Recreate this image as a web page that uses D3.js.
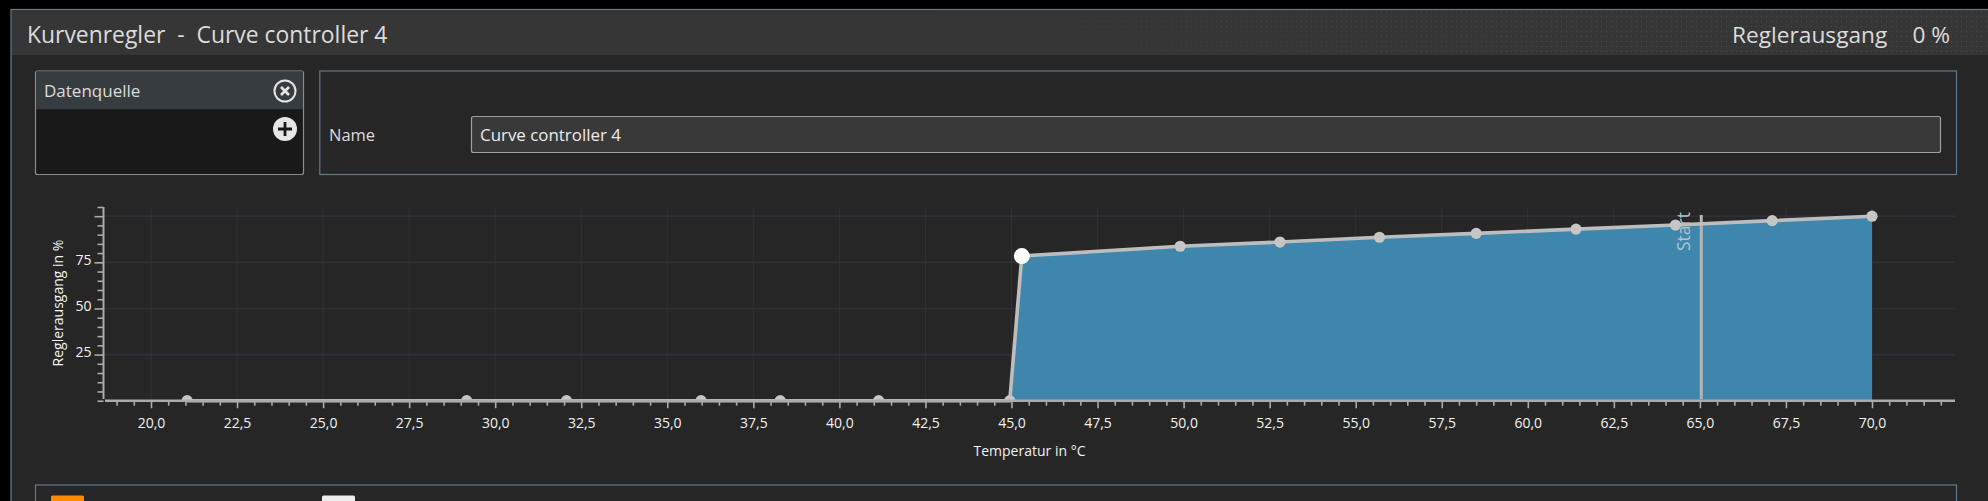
<!DOCTYPE html>
<html lang="de">
  <head>
    <meta charset="utf-8">
    <title>Kurvenregler - Curve controller 4</title>
    <style>
      html, body { margin: 0; background: #000; overflow: hidden; }
      svg { display: block; font-family: "Open Sans", sans-serif; }
      .axis .domain { display: none; }
      .axis text { fill: #f2f2f2; font-size: 14px; font-family: "Open Sans", sans-serif; }
      .axis line { stroke: #ababab; stroke-width: 1.6; }
      .grid line { stroke: #30303a; }
    </style>
    <script src="https://d3js.org/d3.v7.min.js"></script>
  </head>
  <body>
    <div class="chart"></div>
    <script>
    // curve points
    const temps = [21.05, 29.17, 32.07, 35.98, 38.28, 41.14, 44.95, 45.3, 49.9, 52.8, 55.69, 58.5, 61.4, 64.29, 67.1, 70]
    const outputs = [0, 0, 0, 0, 0, 0, 0, 78.4, 83.7, 86, 88.6, 90.7, 93, 95.2, 97.6, 100]
    const activePoint = 7
    const startTemp = 65.04

    const xMajor = [20, 22.5, 25, 27.5, 30, 32.5, 35, 37.5, 40, 42.5, 45, 47.5, 50, 52.5, 55, 57.5, 60, 62.5, 65, 67.5, 70]
    const yMajor = [25, 50, 75, 100]
    const yLabels = [25, 50, 75]

    const width = 1988, height = 501

    const svg = d3.select(".chart").append("svg")
      .attr("width", width)
      .attr("height", height)

    const defs = svg.append("defs")
    const dots = defs.append("pattern")
      .attr("id", "dots")
      .attr("width", 5)
      .attr("height", 5)
      .attr("patternUnits", "userSpaceOnUse")
    dots.append("rect").attr("x", 1).attr("y", 1).attr("width", 1).attr("height", 1).attr("fill", "#4a4a4a")
    const fade = defs.append("linearGradient").attr("id", "fade")
    fade.append("stop").attr("offset", "0").attr("stop-color", "#fff").attr("stop-opacity", 0)
    fade.append("stop").attr("offset", "0.6").attr("stop-color", "#fff").attr("stop-opacity", 1)
    defs.append("mask").attr("id", "fadeMask").attr("maskUnits", "userSpaceOnUse")
      .attr("x", 900).attr("y", 0).attr("width", 1088).attr("height", 60)
      .append("rect").attr("x", 900).attr("y", 0).attr("width", 1088).attr("height", 60).attr("fill", "url(#fade)")
    defs.append("clipPath").attr("id", "plotClip")
      .append("rect").attr("x", 105).attr("y", 200).attr("width", 1850).attr("height", 200)

    // window
    svg.append("rect").attr("x", 11).attr("y", 9.5).attr("width", width).attr("height", height).attr("fill", "#262626").attr("stroke", "#6d7c8a").attr("stroke-width", 1.2)
    svg.append("rect").attr("x", 12).attr("y", 10).attr("width", width).attr("height", 45).attr("fill", "#363636")
    svg.append("rect").attr("x", 900).attr("y", 10).attr("width", 1088).attr("height", 45).attr("fill", "url(#dots)").attr("mask", "url(#fadeMask)")

    svg.append("text").attr("x", 27).attr("y", 43).attr("fill", "#dcdcdc").attr("font-size", 22.9).attr("xml:space", "preserve")
      .style("white-space", "pre").text("Kurvenregler  -  Curve controller 4")
    svg.append("text").attr("x", 1732).attr("y", 43).attr("fill", "#dcdcdc").attr("font-size", 22.7).text("Reglerausgang")
    svg.append("text").attr("x", 1950).attr("y", 43).attr("text-anchor", "end").attr("fill", "#dcdcdc").attr("font-size", 22.7).text("0 %")

    // Datenquelle box
    svg.append("rect").attr("x", 35.5).attr("y", 71).attr("width", 268).attr("height", 103.5).attr("rx", 2).attr("fill", "#191919").attr("stroke", "#8c8c8c").attr("stroke-width", 1.2)
    svg.append("rect").attr("x", 36).attr("y", 71.6).attr("width", 267).attr("height", 37.6).attr("fill", "#373c41")
    svg.append("text").attr("x", 44).attr("y", 97).attr("fill", "#dcdcdc").attr("font-size", 17).text("Datenquelle")

    const closeBtn = svg.append("g").attr("transform", "translate(285,91)")
    closeBtn.append("circle").attr("r", 10.5).attr("fill", "none").attr("stroke", "#e4e4e4").attr("stroke-width", 2)
    closeBtn.append("path").attr("d", "M-4,-4L4,4M-4,4L4,-4").attr("stroke", "#e4e4e4").attr("stroke-width", 2.6)
    const addBtn = svg.append("g").attr("transform", "translate(285,129)")
    addBtn.append("circle").attr("r", 12).attr("fill", "#e6e6e6")
    addBtn.append("path").attr("d", "M-7,0H7M0,-7V7").attr("stroke", "#191919").attr("stroke-width", 2.8)

    // Name box
    svg.append("rect").attr("x", 319.8).attr("y", 71).attr("width", 1636.7).attr("height", 103.5).attr("fill", "none").attr("stroke", "#64778c").attr("stroke-width", 1.2)
    svg.append("text").attr("x", 329).attr("y", 141).attr("fill", "#dcdcdc").attr("font-size", 16.5).text("Name")
    svg.append("rect").attr("x", 471.5).attr("y", 116.5).attr("width", 1469).attr("height", 36).attr("rx", 2).attr("fill", "#393939").attr("stroke", "#a0a0a0").attr("stroke-width", 1.2)
    svg.append("text").attr("x", 480).attr("y", 141).attr("fill", "#ececec").attr("font-size", 16.9).text("Curve controller 4")

    // scales
    const x = d3.scaleLinear().domain([20, 70]).range([151, 1872])
    const y = d3.scaleLinear().domain([0, 100]).range([400.7, 216.2])

    // grid
    const grid = svg.append("g").attr("class", "grid")
    grid.selectAll(".v").data(xMajor).join("line").attr("class", "v")
      .attr("x1", d => x(d)).attr("x2", d => x(d))
      .attr("y1", y(105)).attr("y2", y(0))
    grid.selectAll(".h").data(yMajor).join("line").attr("class", "h")
      .attr("x1", 105).attr("x2", 1955)
      .attr("y1", d => y(d)).attr("y2", d => y(d))
      .attr("stroke-width", 1.6)

    // area below the curve, starts at the last zero point
    const curve = temps.map((t, i) => ({t: t, v: outputs[i]}))
    const area = d3.area().x(d => x(d.t)).y0(y(0)).y1(d => y(d.v))
    const line = d3.line().x(d => x(d.t)).y(d => y(d.v))

    svg.append("path").datum(curve).attr("d", area).attr("fill", "#3e86ab")

    // start marker, the curve runs over its label
    const start = svg.append("g")
    start.append("text")
      .attr("transform", `translate(${x(startTemp) - 11},251) rotate(-90)`)
      .attr("fill", "#b0c4ce").attr("font-size", 17.5).text("Start")

    svg.append("path").datum(curve).attr("d", line)
      .attr("fill", "none").attr("stroke", "#bdbdbd").attr("stroke-width", 3.6)

    start.append("line")
      .attr("x1", x(startTemp)).attr("x2", x(startTemp))
      .attr("y1", 215).attr("y2", 399)
      .attr("stroke", "#b5b5b5").attr("stroke-width", 3)

    svg.append("g").attr("clip-path", "url(#plotClip)")
      .selectAll("circle").data(curve).join("circle")
      .attr("cx", d => x(d.t))
      .attr("cy", d => y(d.v))
      .attr("r", (d, i) => i === activePoint ? 8 : 5.6)
      .attr("fill", (d, i) => i === activePoint ? "#ffffff" : "#c6c6c6")

    // axes
    const xMinor = d3.range(19, 72.5, 0.5).filter(d => !xMajor.includes(d))
    const xAxisG = svg.append("g").attr("class", "axis").attr("transform", `translate(0,${y(0)})`)
    xAxisG.append("g")
      .call(d3.axisBottom(x).tickValues(xMinor).tickSize(5).tickFormat(""))
    xAxisG.append("g")
      .call(d3.axisBottom(x).tickValues(xMajor).tickSize(7.5).tickPadding(10)
        .tickFormat(d => d3.format(".1f")(d).replace(".", ",")))
    xAxisG.append("line").attr("x1", 105).attr("x2", 1955).style("stroke-width", 2.6)

    const yAxisG = svg.append("g").attr("class", "axis").attr("transform", "translate(103.5,0)")
    yAxisG.append("g")
      .call(d3.axisLeft(y).tickValues(d3.range(0, 110, 5).filter(d => !yMajor.includes(d))).tickSize(6).tickFormat(""))
    const yMajorG = yAxisG.append("g")
      .call(d3.axisLeft(y).tickValues(yMajor).tickSize(9).tickPadding(3)
        .tickFormat(d => yLabels.includes(d) ? d : ""))
    yMajorG.selectAll("text").attr("dy", "0.14em")
    yAxisG.append("line").attr("y1", 207).attr("y2", 399).style("stroke-width", 2)

    svg.append("text").attr("x", 1029.5).attr("y", 456).attr("text-anchor", "middle")
      .attr("fill", "#f2f2f2").attr("font-size", 14).text("Temperatur in °C")
    svg.append("text").attr("transform", "translate(63,303) rotate(-90)").attr("text-anchor", "middle")
      .attr("fill", "#f2f2f2").attr("font-size", 14).text("Reglerausgang in %")

    // lower panel, cut off by the window
    svg.append("rect").attr("x", 35.5).attr("y", 485).attr("width", 1921).attr("height", 40).attr("fill", "none").attr("stroke", "#64778c").attr("stroke-width", 1.2)
    svg.append("rect").attr("x", 51).attr("y", 495.5).attr("width", 33).attr("height", 12).attr("rx", 1.5).attr("fill", "#ff8c00")
    svg.append("rect").attr("x", 322).attr("y", 495.5).attr("width", 33).attr("height", 12).attr("rx", 1.5).attr("fill", "#eeeeee")
    </script>
  </body>
</html>
